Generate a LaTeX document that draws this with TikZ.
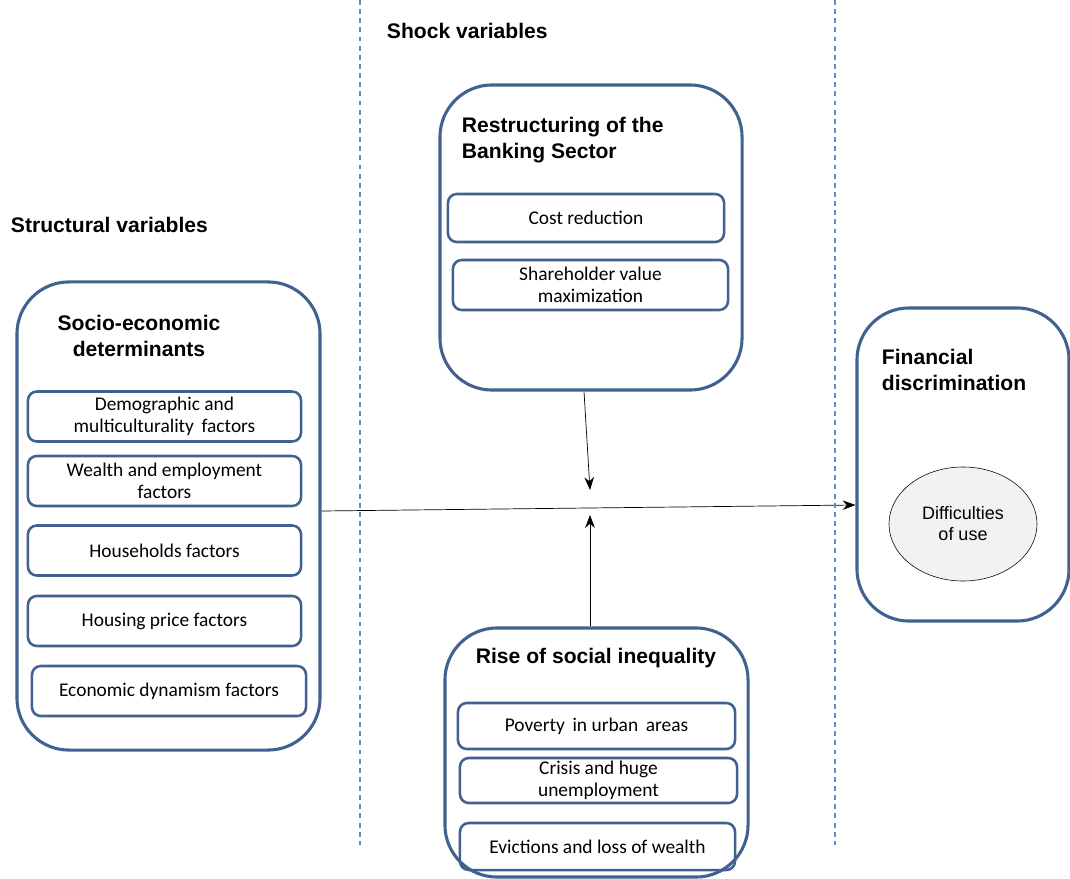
\documentclass[tikz,border=0pt]{standalone}
\usepackage{fontspec}
\setmainfont{Carlito}
\newfontfamily\arialfont{Liberation Sans}
\usepackage{xcolor}
\usetikzlibrary{arrows.meta,shapes.geometric}
\definecolor{boxblue}{RGB}{65,98,145}
\definecolor{lineblue}{RGB}{85,145,215}
\definecolor{ovalgray}{RGB}{242,242,242}

\begin{document}
\begin{tikzpicture}[
    x=0.025cm, y=-0.025cm,
    group/.style={draw=boxblue, line width=2.2pt, rounded corners=1.3cm},
    factor/.style={draw=boxblue, line width=1.8pt, rounded corners=0.22cm,
                   minimum height=1.2cm, align=center, inner sep=1pt,
                   font=\fontsize{13.8}{15.6}\selectfont},
    heading/.style={font=\arialfont\bfseries\fontsize{15}{19}\selectfont},
    sep/.style={lineblue, line width=1pt, dash pattern=on 3.5pt off 3pt},
    arr/.style={-{Stealth[length=3.2mm,width=2.4mm]}, line width=0.5pt}
]
\useasboundingbox (0,0) rectangle (1070,879);

\node[heading, anchor=west] (shock) at (382,31) {Shock variables};
\node[heading, anchor=west] (struct) at (6,225) {Structural variables};

% structural block
\node[group, minimum width=7.575cm, minimum height=11.7cm] (socio) at (168.5,516) {};
\node[heading, align=center] (sociot) at (139,336) {Socio-economic\\determinants};
\node[factor, minimum width=6.825cm, minimum height=1.25cm] (f1) at (164.5,416.5) {Demographic and\\multiculturality\, factors};
\node[factor, minimum width=6.825cm, minimum height=1.25cm] (f2) at (164.5,481) {Wealth and employment\\factors};
\node[factor, minimum width=6.825cm, minimum height=1.25cm] (f3) at (164.5,550.5) {Households factors};
\node[factor, minimum width=6.825cm, minimum height=1.25cm] (f4) at (164.5,621) {Housing price factors};
\node[factor, minimum width=6.85cm, minimum height=1.25cm] (f5) at (169,691) {Economic dynamism factors};

% banking block
\node[group, minimum width=7.55cm, minimum height=7.625cm] (bank) at (591,237.5) {};
\node[heading, align=left, anchor=west] (bankt) at (457,140) {Restructuring of the\\Banking Sector};
\node[factor, minimum width=6.9cm] (b1) at (586,218) {Cost reduction};
\node[factor, minimum width=6.875cm, minimum height=1.25cm] (b2) at (590.5,285) {Shareholder value\\maximization};

% inequality block
\node[group, minimum width=7.575cm, minimum height=6.225cm] (ineq) at (596.5,752.5) {};
\node[heading] (ineqt) at (596,658) {Rise of social inequality};
\node[factor, minimum width=6.925cm, minimum height=1.15cm] (i1) at (596.5,726) {Poverty\, in urban\, areas};
\node[factor, minimum width=6.925cm, minimum height=1.125cm] (i2) at (598.5,780.5) {Crisis and huge\\unemployment};
\node[factor, minimum width=6.875cm, minimum height=1.175cm] (i3) at (597.5,846.5) {Evictions and loss of wealth};

% outcome block
\node[group, minimum width=5.3cm, minimum height=7.825cm] (fin) at (963,464.5) {};
\node[heading, align=left, anchor=west] (fint) at (877,370) {Financial\\discrimination};
\node[ellipse, draw, thin, fill=ovalgray, minimum width=3.7cm, minimum height=2.85cm,
      align=center, font=\arialfont\fontsize{12.8}{15}\selectfont] (diff) at (963,524) {Difficulties\\of use};

% connectors
\coordinate (meetdown) at (590,490);
\coordinate (meetup) at (590,515);
\draw[arr] (socio.east |- 0,511) -- (fin.west |- 0,505);
\draw[arr] (bank.south -| 584,0) -- (meetdown);
\draw[arr] (ineq.north -| meetup) -- (meetup);

% column separators
\draw[sep] (360,0) -- (360,845);
\draw[sep] (835,0) -- (835,845);
\end{tikzpicture}
\end{document}
